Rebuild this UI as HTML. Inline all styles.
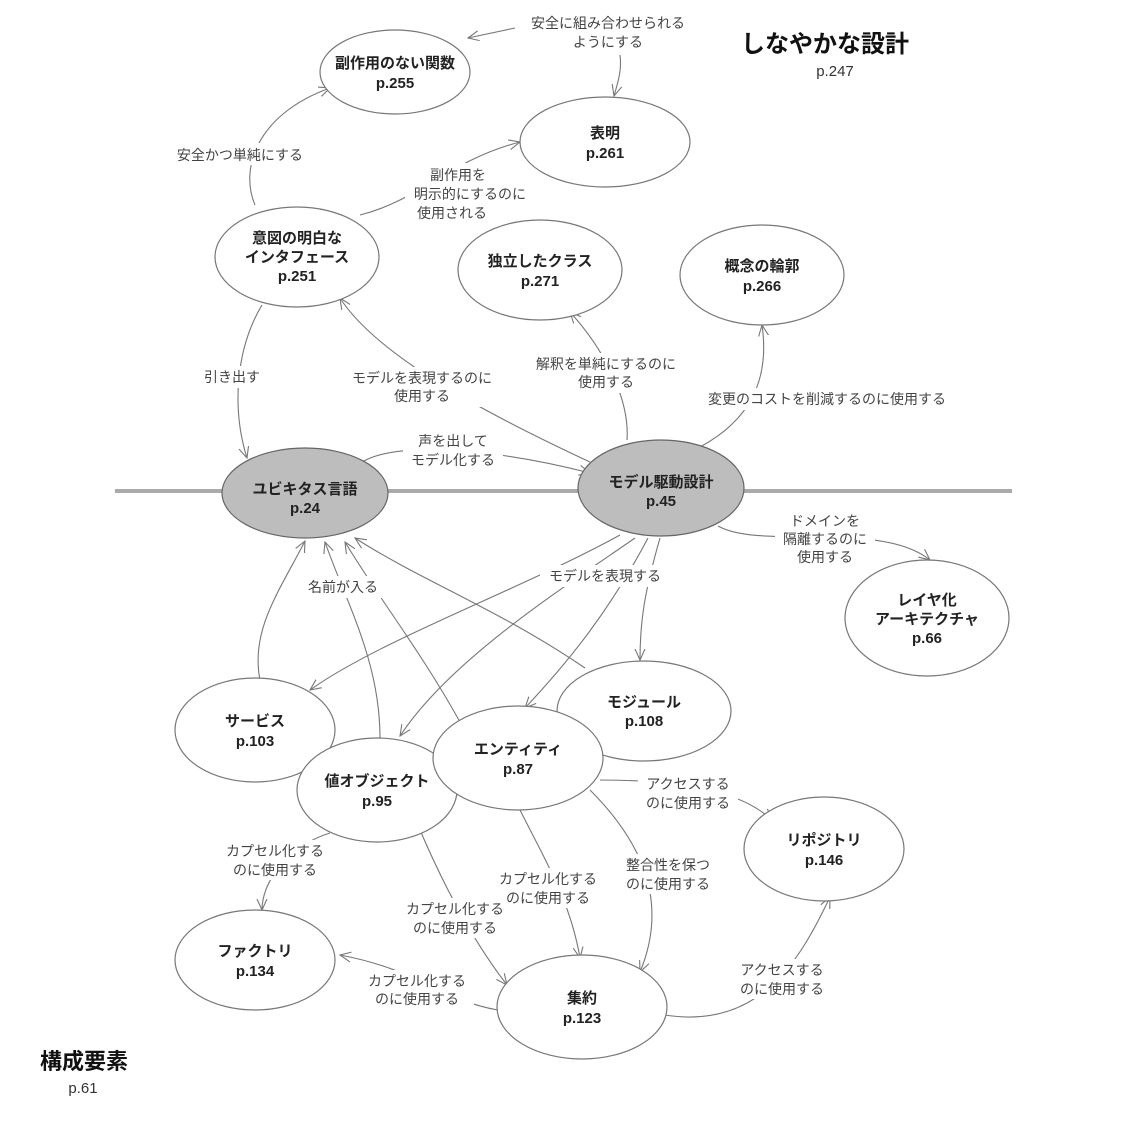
<!DOCTYPE html>
<html><head><meta charset="utf-8"><style>
html,body{margin:0;padding:0;background:#fff}
svg{display:block}
text{font-family:"Liberation Sans","Noto Sans CJK JP",sans-serif}
.n{font-size:15px;font-weight:bold;fill:#222;text-anchor:middle}
.l{font-size:14px;fill:#444;text-anchor:middle}
.e{fill:none;stroke:#777;stroke-width:1.1}
.o{fill:#fff;stroke:#777;stroke-width:1.2}
.g{fill:#bdbdbd;stroke:#666;stroke-width:1.2}
</style></head><body>
<svg width="1122" height="1126" viewBox="0 0 1122 1126" xmlns="http://www.w3.org/2000/svg">
<defs><marker id="a" viewBox="0 0 12 12" refX="11" refY="6" markerWidth="12" markerHeight="12" markerUnits="userSpaceOnUse" orient="auto"><path d="M0,1 L11,6 L0,11" fill="none" stroke="#777" stroke-width="1.1"/></marker></defs>
<line x1="115" y1="491" x2="1012" y2="491" stroke="#aaa" stroke-width="4"/>
<g class="e" marker-end="url(#a)">
<path d="M255,205 C240,170 255,115 330,88"/>
<path d="M515,28 L468,38"/>
<path d="M620,55 C622,70 618,82 614,96"/>
<path d="M360,215 C420,200 450,160 520,142"/>
<path d="M262,305 C235,350 232,410 247,458"/>
<path d="M590,462 C500,420 380,360 340,298"/>
<path d="M627,440 C630,395 600,345 570,312"/>
<path d="M700,447 C750,420 770,380 762,325"/>
<path d="M362,462 C400,440 500,450 590,473"/>
<path d="M718,526 C760,550 880,520 930,560"/>
<path d="M620,535 C520,590 380,640 310,690"/>
<path d="M635,538 C560,590 450,660 400,736"/>
<path d="M648,538 C610,610 570,660 525,708"/>
<path d="M660,538 C645,590 640,620 640,660"/>
<path d="M260,680 C250,630 280,590 305,541"/>
<path d="M380,738 C380,660 345,600 325,542"/>
<path d="M460,722 C420,650 380,600 345,542"/>
<path d="M585,668 C500,610 420,580 355,538"/>
<path d="M330,833 C290,845 262,880 262,910"/>
<path d="M420,830 C450,900 480,950 507,985"/>
<path d="M520,810 C545,860 570,900 580,958"/>
<path d="M590,790 C640,840 670,900 640,972"/>
<path d="M600,780 C680,780 740,790 772,820"/>
<path d="M665,1015 C760,1030 800,960 830,897"/>
<path d="M498,1010 C440,1000 420,970 340,955"/>
</g>
<g fill="#fff">
<rect x="165" y="143" width="150" height="22"/>
<rect x="520" y="12" width="178" height="42"/>
<rect x="405" y="163" width="130" height="60"/>
<rect x="196" y="366" width="72" height="22"/>
<rect x="340" y="367" width="165" height="40"/>
<rect x="525" y="353" width="162" height="40"/>
<rect x="692" y="388" width="270" height="22"/>
<rect x="403" y="430" width="100" height="40"/>
<rect x="775" y="510" width="100" height="58"/>
<rect x="540" y="565" width="130" height="22"/>
<rect x="302" y="576" width="84" height="22"/>
<rect x="218" y="840" width="115" height="40"/>
<rect x="395" y="898" width="118" height="40"/>
<rect x="490" y="868" width="116" height="40"/>
<rect x="618" y="854" width="100" height="40"/>
<rect x="638" y="773" width="100" height="40"/>
<rect x="733" y="959" width="100" height="40"/>
<rect x="360" y="970" width="114" height="40"/>
</g>
<g>
<ellipse class="o" cx="395" cy="72" rx="75" ry="42"/>
<ellipse class="o" cx="605" cy="142" rx="85" ry="45"/>
<ellipse class="o" cx="297" cy="257" rx="82" ry="50"/>
<ellipse class="o" cx="540" cy="270" rx="82" ry="50"/>
<ellipse class="o" cx="762" cy="275" rx="82" ry="50"/>
<ellipse class="g" cx="305" cy="493" rx="83" ry="45"/>
<ellipse class="g" cx="661" cy="488" rx="83" ry="48"/>
<ellipse class="o" cx="927" cy="618" rx="82" ry="58"/>
<ellipse class="o" cx="644" cy="711" rx="87" ry="50"/>
<ellipse class="o" cx="255" cy="730" rx="80" ry="52"/>
<ellipse class="o" cx="377" cy="790" rx="80" ry="52"/>
<ellipse class="o" cx="518" cy="758" rx="85" ry="52"/>
<ellipse class="o" cx="824" cy="849" rx="80" ry="52"/>
<ellipse class="o" cx="255" cy="960" rx="80" ry="50"/>
<ellipse class="o" cx="582" cy="1007" rx="85" ry="52"/>
</g>
<g class="n">
<text x="395" y="68">副作用のない関数</text><text x="395" y="88">p.255</text>
<text x="605" y="138">表明</text><text x="605" y="158">p.261</text>
<text x="297" y="243">意図の明白な</text><text x="297" y="262">インタフェース</text><text x="297" y="281">p.251</text>
<text x="540" y="266">独立したクラス</text><text x="540" y="286">p.271</text>
<text x="762" y="271">概念の輪郭</text><text x="762" y="291">p.266</text>
<text x="305" y="494">ユビキタス言語</text><text x="305" y="513">p.24</text>
<text x="661" y="487">モデル駆動設計</text><text x="661" y="506">p.45</text>
<text x="927" y="605">レイヤ化</text><text x="927" y="624">アーキテクチャ</text><text x="927" y="643">p.66</text>
<text x="644" y="707">モジュール</text><text x="644" y="726">p.108</text>
<text x="255" y="726">サービス</text><text x="255" y="746">p.103</text>
<text x="377" y="786">値オブジェクト</text><text x="377" y="806">p.95</text>
<text x="518" y="754">エンティティ</text><text x="518" y="774">p.87</text>
<text x="824" y="845">リポジトリ</text><text x="824" y="865">p.146</text>
<text x="255" y="956">ファクトリ</text><text x="255" y="976">p.134</text>
<text x="582" y="1003">集約</text><text x="582" y="1023">p.123</text>
</g>
<g class="l">
<text x="240" y="160">安全かつ単純にする</text>
<text x="608" y="28">安全に組み合わせられる</text><text x="608" y="47">ようにする</text>
<text x="458" y="180">副作用を</text><text x="470" y="199">明示的にするのに</text><text x="452" y="218">使用される</text>
<text x="232" y="382">引き出す</text>
<text x="422" y="383">モデルを表現するのに</text><text x="422" y="401">使用する</text>
<text x="606" y="369">解釈を単純にするのに</text><text x="606" y="387">使用する</text>
<text x="827" y="404">変更のコストを削減するのに使用する</text>
<text x="453" y="446">声を出して</text><text x="453" y="465">モデル化する</text>
<text x="825" y="526">ドメインを</text><text x="825" y="544">隔離するのに</text><text x="825" y="562">使用する</text>
<text x="605" y="581">モデルを表現する</text>
<text x="343" y="592">名前が入る</text>
<text x="275" y="856">カプセル化する</text><text x="275" y="875">のに使用する</text>
<text x="455" y="914">カプセル化する</text><text x="455" y="933">のに使用する</text>
<text x="548" y="884">カプセル化する</text><text x="548" y="903">のに使用する</text>
<text x="668" y="870">整合性を保つ</text><text x="668" y="889">のに使用する</text>
<text x="688" y="789">アクセスする</text><text x="688" y="808">のに使用する</text>
<text x="782" y="975">アクセスする</text><text x="782" y="994">のに使用する</text>
<text x="417" y="986">カプセル化する</text><text x="417" y="1004">のに使用する</text>
</g>
<text x="825" y="52" style="font-size:24px;font-weight:bold;fill:#111;text-anchor:middle">しなやかな設計</text>
<text x="835" y="76" style="font-size:15px;fill:#333;text-anchor:middle">p.247</text>
<text x="84" y="1069" style="font-size:22px;font-weight:bold;fill:#111;text-anchor:middle">構成要素</text>
<text x="83" y="1093" style="font-size:15px;fill:#333;text-anchor:middle">p.61</text>
</svg>
</body></html>
